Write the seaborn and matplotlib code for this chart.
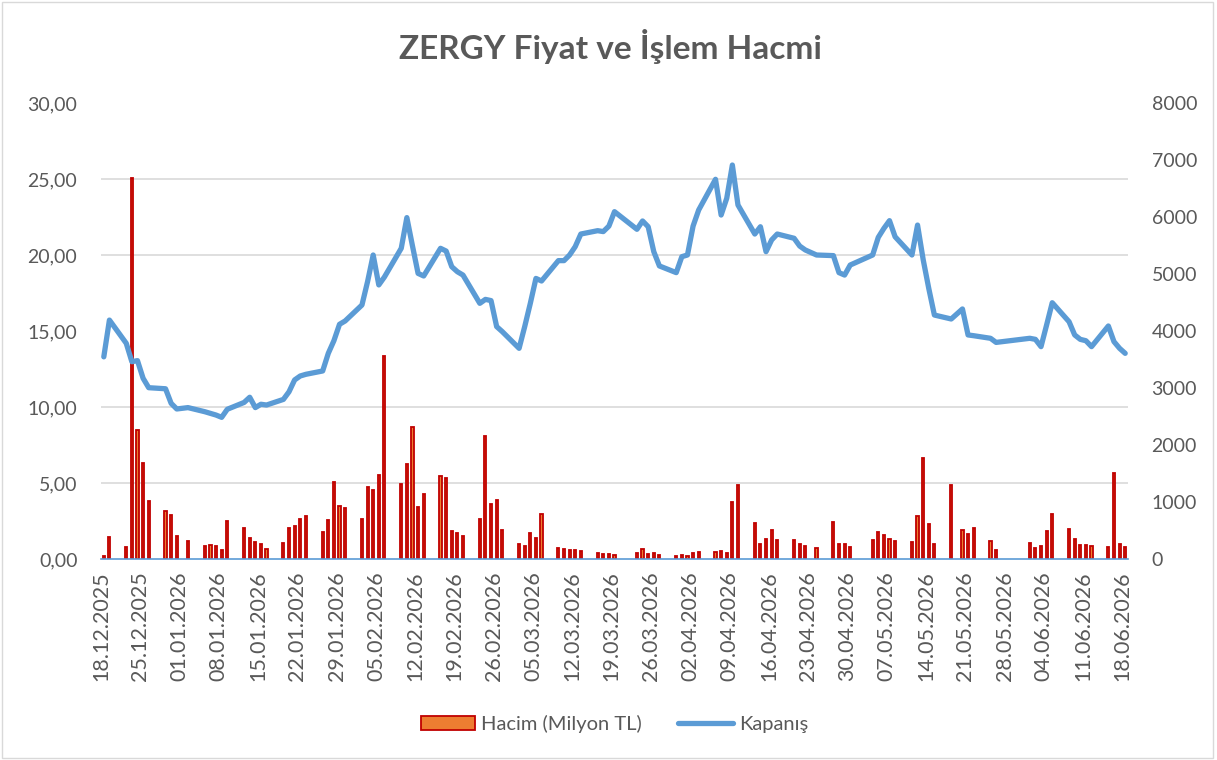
import pandas as pd
import matplotlib.pyplot as plt
import matplotlib.dates as mdates
from matplotlib.patches import Rectangle
import seaborn as sns

# Işlem günleri (tatiller hariç)
tatiller = ['2026-01-01', '2026-03-20', '2026-04-23', '2026-05-01',
            '2026-05-19', '2026-05-27', '2026-05-28', '2026-05-29']
gunler = pd.bdate_range('2025-12-18', '2026-06-18')
gunler = gunler[~gunler.isin(pd.to_datetime(tatiller))]

# Kapanış fiyatı (TL)
kapanis = [13.3, 15.72, 14.19, 12.98, 13.05, 11.89, 11.27, 11.2, 10.24, 9.87,
           9.96, 9.69, 9.58, 9.47, 9.32, 9.85, 10.3, 10.64, 9.96, 10.18, 10.13,
           10.5, 11.0, 11.78, 12.04, 12.15, 12.37, 13.53, 14.36, 15.44, 15.66,
           16.71, 18.25, 20.0, 18.03, 18.55, 20.44, 22.46, 20.6, 18.79, 18.62,
           20.44, 20.26, 19.23, 18.9, 18.68, 16.82, 17.08, 17.0, 15.29, 14.96,
           13.86, 15.29, 16.82, 18.46, 18.29, 19.63, 19.63, 20.0, 20.55, 21.38,
           21.6, 21.54, 21.9, 22.85, 21.69, 22.24, 21.86, 20.22, 19.28, 18.84, 19.89,
           20.0, 21.9, 22.96, 24.98, 22.63, 23.73, 25.92, 23.29, 21.38, 21.86,
           20.22, 20.99, 21.38, 21.1, 20.59, 20.33, 20.0, 19.96, 18.84, 18.68, 19.34,
           20.0, 21.16, 21.75, 22.26, 21.2, 20.0, 21.97, 19.7, 17.8, 16.05,
           15.79, 16.45, 14.74, 14.69, 14.52, 14.25,
           14.52, 14.45, 13.97, 15.4, 16.86, 15.61, 14.74, 14.45, 14.36, 13.97,
           15.33, 14.3, 13.86, 13.53]

# Işlem hacmi (Milyon TL)
hacim = [60, 380, 210, 6690, 2270, 1685, 1010, 836, 778, 398,
         322, 234, 246, 234, 164, 660, 538, 363, 292, 263, 175,
         275, 538, 585, 708, 760, 480, 690, 1345, 930, 890,
         708, 1257, 1216, 1474, 3555, 1316, 1672, 2310, 906, 1134,
         1462, 1415, 485, 456, 398, 696, 2152, 971, 1029, 503,
         263, 234, 456, 363, 784, 187, 181, 164, 152, 146,
         99, 94, 82, 64, 105, 181, 88, 99, 64, 45, 70,
         58, 99, 129, 123, 146, 99, 994, 1298, 626, 263,
         351, 503, 333, 327, 263, 228, 187, 643, 257, 269, 210,
         333, 468, 427, 351, 316, 298, 754, 1766, 620, 257,
         1304, 509, 439, 544, 310, 152,
         281, 193, 228, 497, 790, 532, 357, 240, 246, 228,
         216, 1509, 269, 205]

df = pd.DataFrame({'tarih': gunler + pd.Timedelta(hours=12),
                   'kapanis': kapanis, 'hacim': hacim})

sns.set_style('white')
plt.rcParams['font.family'] = ['Lato', 'DejaVu Sans']
gri = '#595959'
mavi = '#5B9BD5'

fig = plt.figure(figsize=(12.17, 7.6), dpi=100)
ax = fig.add_axes([101 / 1217, 1 - 559 / 760, (1128 - 101) / 1217, (559 - 103) / 760])
ax2 = ax.twinx()
ax.set_zorder(ax2.get_zorder() + 1)
ax.patch.set_visible(False)

# Hacim çubukları (sağ eksen)
ax2.bar(df['tarih'], df['hacim'], width=0.38, color='#ED7D31', edgecolor='#C00000',
        linewidth=1.3, label='Hacim (Milyon TL)')
ax2.set_ylim(0, 8000)
ax2.set_yticks(range(0, 8001, 1000))
ax2.set_yticks([8000 * k / 6 for k in range(7)], minor=True)
ax2.grid(True, which='minor', axis='y', color='#D9D9D9', linewidth=1.2)
ax2.grid(False, which='major')
ax2.set_axisbelow(True)
ax2.tick_params(axis='y', which='both', length=0, pad=17, labelsize=14, labelcolor=gri)

# Kapanış çizgisi (sol eksen)
sns.lineplot(data=df, x='tarih', y='kapanis', ax=ax, color=mavi, linewidth=3.8,
             label='Kapanış', legend=False)
ax.set_ylim(0, 30)
ax.set_yticks(range(0, 31, 5))
ax.yaxis.set_major_formatter(plt.FuncFormatter(lambda v, p: f'{v:.2f}'.replace('.', ',')))
ax.tick_params(axis='y', length=0, pad=17, labelsize=14, labelcolor=gri)
ax.grid(False)

start = pd.Timestamp('2025-12-18')
end = pd.Timestamp('2026-06-19')
ax.set_xlim(start, end)
ax.set_xticks(pd.date_range(start, '2026-06-18', freq='7D'))
ax.xaxis.set_major_formatter(mdates.DateFormatter('%d.%m.%Y'))
ax.tick_params(axis='x', rotation=90, length=5, width=1, color=mavi,
               labelsize=15.5, labelcolor=gri, pad=4)
ax.set_xlabel('')
ax.set_ylabel('')

for a in (ax, ax2):
    for s in ('top', 'left', 'right', 'bottom'):
        a.spines[s].set_visible(False)
ax.spines['bottom'].set_visible(True)
ax.spines['bottom'].set_color(mavi)
ax.spines['bottom'].set_linewidth(1.2)

fig.text(0.502, 1 - 47 / 760, 'ZERGY Fiyat ve İşlem Hacmi', ha='center', va='center',
         fontsize=24, fontweight='bold', color=gri)

h1, l1 = ax2.get_legend_handles_labels()
h2, l2 = ax.get_legend_handles_labels()
fig.legend(h1 + h2, l1 + l2, loc='center', bbox_to_anchor=(0.505, 1 - 724 / 760),
           ncol=2, frameon=False, fontsize=14.5, labelcolor=gri,
           handlelength=2.7, handleheight=0.7, handletextpad=0.3, columnspacing=1.8)

fig.patches.append(Rectangle((0.002, 0.003), 0.995, 0.994, transform=fig.transFigure,
                             fill=False, edgecolor='#D9D9D9', linewidth=1))

fig.savefig('out.png', dpi=100)
